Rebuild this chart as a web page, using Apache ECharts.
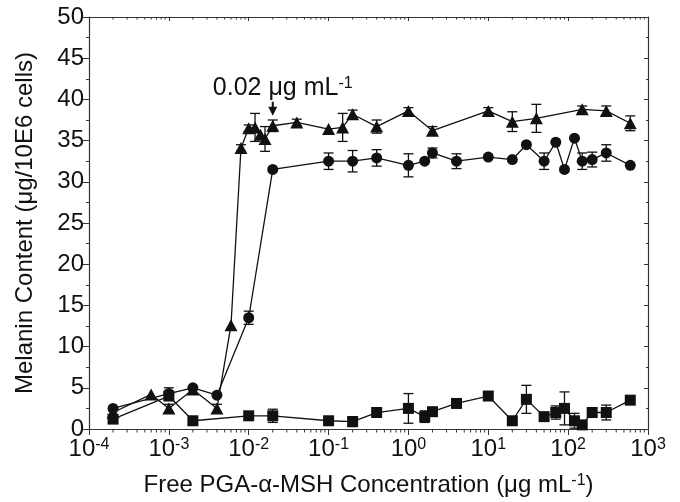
<!DOCTYPE html>
<html>
<head>
<meta charset="utf-8">
<script src="https://cdn.jsdelivr.net/npm/echarts@6/dist/echarts.min.js"></script>
<style>
html,body{margin:0;padding:0;background:#fff;}
#chart{width:680px;height:502px;}
</style>
</head>
<body>
<div id="chart"></div>
<script>
// ---- data (x = concentration µg/mL, y = melanin, e = error) ----
var circleX = [2e-4, 1e-3, 2e-3, 4e-3, 1e-2, 2e-2, 0.1, 0.2, 0.4, 1.0, 1.6, 2.0, 4.0, 10, 20, 30, 50, 70, 90, 120, 150, 200, 300, 600];
var circleY = [2.5, 4.3, 5.0, 4.1, 13.5, 31.5, 32.5, 32.5, 32.9, 32.0, 32.5, 33.5, 32.5, 33.0, 32.7, 34.5, 32.5, 34.8, 31.5, 35.3, 32.5, 32.7, 33.5, 32.0];
var circleE = [0, 0.7, 0, 0, 0.8, 0, 1.0, 1.3, 1.0, 1.4, 0, 0.6, 0.9, 0, 0, 0, 1.0, 0, 0, 0, 1.0, 0.9, 1.0, 0];

var triX = [2e-4, 6e-4, 1e-3, 2e-3, 4e-3, 6e-3, 8e-3, 1e-2, 1.2e-2, 1.4e-2, 1.6e-2, 2e-2, 4e-2, 0.1, 0.15, 0.2, 0.4, 1.0, 2.0, 10, 20, 40, 150, 300, 600];
var triY = [2.0, 4.2, 2.5, 4.8, 2.5, 12.6, 34.1, 36.5, 36.6, 35.7, 35.2, 36.8, 37.2, 36.4, 36.6, 38.2, 36.7, 38.6, 36.2, 38.6, 37.3, 37.7, 38.8, 38.6, 37.1];
var triE = [0, 0, 0.5, 0, 0.5, 0, 0.4, 0.4, 1.7, 0, 1.5, 0.7, 0.4, 0, 1.7, 0.5, 0.8, 0.4, 0.5, 0.4, 1.2, 1.7, 0.4, 0.6, 0.9];

var squareX = [2e-4, 1e-3, 2e-3, 1e-2, 2e-2, 0.1, 0.2, 0.4, 1.0, 1.6, 2.0, 4.0, 10, 20, 30, 50, 70, 90, 120, 150, 200, 300, 600];
var squareY = [1.2, 4.0, 1.0, 1.6, 1.6, 1.0, 0.9, 2.0, 2.5, 1.5, 2.1, 3.1, 4.0, 1.0, 3.6, 1.5, 2.0, 2.5, 1.0, 0.5, 2.0, 2.0, 3.5];
var squareE = [0.3, 0, 0.5, 0, 0.8, 0, 0.6, 0, 1.8, 0.7, 0, 0, 0, 0, 1.7, 0, 0.8, 2.0, 0.9, 0, 0, 0.9, 0];

var xMin = 1e-4, xMax = 1e3;
var yTicks = [0, 5, 10, 15, 20, 25, 30, 35, 40, 45, 50];
var annotX = 0.02, annotY = 36.8;
var annotText = '0.02 μg mL';

// ---- helpers ----
function pairs(xs, ys) { return xs.map(function (x, i) { return [x, ys[i]]; }); }
function errData(xs, ys, es) {
  var out = [];
  xs.forEach(function (x, i) { if (es[i] > 0) out.push([x, ys[i], es[i]]); });
  return out;
}
var minorTicks = [];
for (var k = -4; k < 3; k++) {
  for (var m = 2; m <= 9; m++) minorTicks.push([m * Math.pow(10, k)]);
}
var INK = '#111';
var AX = '#333';
var FONT = '"Liberation Sans", Arial, sans-serif';

function errSeries(data) {
  return {
    type: 'custom', xAxisIndex: 0, yAxisIndex: 0, z: 1, silent: true,
    data: data,
    renderItem: function (params, api) {
      var x = api.value(0), y = api.value(1), e = api.value(2);
      var top = api.coord([x, y + e]), bot = api.coord([x, y - e]);
      var c = 5;
      var st = { stroke: INK, lineWidth: 1.3 };
      return { type: 'group', children: [
        { type: 'line', shape: { x1: top[0], y1: top[1], x2: bot[0], y2: bot[1] }, style: st },
        { type: 'line', shape: { x1: top[0] - c, y1: top[1], x2: top[0] + c, y2: top[1] }, style: st },
        { type: 'line', shape: { x1: bot[0] - c, y1: bot[1], x2: bot[0] + c, y2: bot[1] }, style: st }
      ]};
    }
  };
}

var supStyle = { fontSize: 16, verticalAlign: 'top', fontFamily: FONT, color: INK, padding: [0, 0, 8, 0] };

var chart = echarts.init(document.getElementById('chart'), null, { renderer: 'canvas' });
var option = {
  animation: false,
  backgroundColor: '#fff',
  textStyle: { fontFamily: FONT },
  grid: { left: 89, right: 32, top: 17, bottom: 72, containLabel: false },
  xAxis: [{
    type: 'log', logBase: 10, min: xMin, max: xMax, position: 'bottom',
    name: 'Free PGA-α-MSH Concentration (μg mL{sup|-1}{n|)}',
    nameLocation: 'middle', nameGap: 44,
    nameTextStyle: { fontSize: 24, color: INK, fontFamily: FONT,
      rich: { sup: { fontSize: 16, verticalAlign: 'top', fontFamily: FONT, color: INK, padding: [0, 0, 8, 0] },
              n: { fontSize: 24, fontFamily: FONT, color: INK } } },
    axisLine: { show: true, onZero: false, lineStyle: { color: AX, width: 1.2 } },
    axisTick: { show: true, inside: false, length: 6, lineStyle: { color: AX, width: 1 } },
    minorTick: { show: false },
    splitLine: { show: false },
    axisLabel: {
      margin: 8, fontSize: 24, color: INK, fontFamily: FONT,
      formatter: function (v) { return '10{sup|' + Math.round(Math.log10(v)) + '}'; },
      rich: { sup: supStyle }
    }
  }, {
    type: 'log', logBase: 10, min: xMin, max: xMax, position: 'top',
    axisLine: { show: true, onZero: false, lineStyle: { color: AX, width: 1.2 } },
    axisTick: { show: true, inside: true, length: 4, lineStyle: { color: AX } },
    axisLabel: { show: false }, splitLine: { show: false }
  }],
  yAxis: [{
    type: 'value', min: 0, max: 50, interval: 5, position: 'left',
    name: 'Melanin Content (μg/10E6 cells)', nameLocation: 'middle', nameGap: 52,
    nameTextStyle: { fontSize: 24, color: INK, fontFamily: FONT },
    axisLine: { show: true, onZero: false, lineStyle: { color: AX, width: 1.2 } },
    axisTick: { show: true, inside: false, length: 6, lineStyle: { color: AX } },
    minorTick: { show: true, splitNumber: 2, length: 3, lineStyle: { color: AX } },
    splitLine: { show: false },
    axisLabel: { margin: 5, fontSize: 24, color: INK, fontFamily: FONT,
      formatter: function (v) { return yTicks.indexOf(v) >= 0 ? String(v) : ''; } }
  }, {
    type: 'value', min: 0, max: 50, interval: 5, position: 'right',
    axisLine: { show: true, onZero: false, lineStyle: { color: AX, width: 1.2 } },
    axisTick: { show: true, inside: true, length: 4, lineStyle: { color: AX } },
    minorTick: { show: true, splitNumber: 2, length: 2, lineStyle: { color: AX } },
    splitLine: { show: false }, axisLabel: { show: false }
  }],
  series: [
    errSeries(errData(circleX, circleY, circleE)),
    errSeries(errData(triX, triY, triE)),
    errSeries(errData(squareX, squareY, squareE)),
    {
      type: 'line', name: 'circle', xAxisIndex: 0, yAxisIndex: 0, z: 3,
      data: pairs(circleX, circleY), symbol: 'circle', symbolSize: 11, showAllSymbol: true,
      lineStyle: { color: INK, width: 1.3 }, itemStyle: { color: INK }
    },
    {
      type: 'line', name: 'triangle', xAxisIndex: 0, yAxisIndex: 0, z: 3,
      data: pairs(triX, triY), symbol: 'triangle', symbolSize: [13, 12], showAllSymbol: true,
      lineStyle: { color: INK, width: 1.3 }, itemStyle: { color: INK }
    },
    {
      type: 'line', name: 'square', xAxisIndex: 0, yAxisIndex: 0, z: 3,
      data: pairs(squareX, squareY), symbol: 'rect', symbolSize: 11, showAllSymbol: true,
      lineStyle: { color: INK, width: 1.3 }, itemStyle: { color: INK }
    },
    {
      // minor ticks on log axes (bottom outward, top inward)
      type: 'custom', xAxisIndex: 0, yAxisIndex: 0, silent: true, clip: false, z: 2,
      data: minorTicks,
      renderItem: function (params, api) {
        var v = api.value(0);
        var b = api.coord([v, 0]), t = api.coord([v, 50]);
        var st = { stroke: AX, lineWidth: 1 };
        return { type: 'group', children: [
          { type: 'line', shape: { x1: b[0], y1: b[1], x2: b[0], y2: b[1] + 3.5 }, style: st },
          { type: 'line', shape: { x1: t[0], y1: t[1], x2: t[0], y2: t[1] + 2.5 }, style: st }
        ]};
      }
    },
    {
      // annotation arrow + text anchored to the 0.02 point
      type: 'custom', xAxisIndex: 0, yAxisIndex: 0, silent: true, clip: false, z: 4,
      data: [[annotX, annotY]],
      renderItem: function (params, api) {
        var p = api.coord([api.value(0), api.value(1)]);
        var tipY = p[1] - 10, topY = p[1] - 24;
        return { type: 'group', children: [
          { type: 'line', shape: { x1: p[0], y1: topY, x2: p[0], y2: tipY - 6 }, style: { stroke: INK, lineWidth: 2 } },
          { type: 'polygon', shape: { points: [[p[0] - 4.5, tipY - 9], [p[0] + 4.5, tipY - 9], [p[0], tipY]] }, style: { fill: INK } },
          { type: 'text', x: p[0] + 10, y: topY - 1,
            style: { text: annotText + '{sup|-1}', fontSize: 25, fontFamily: FONT, fill: INK,
              align: 'center', verticalAlign: 'bottom',
              rich: { sup: { fontSize: 16, verticalAlign: 'top', fontFamily: FONT, fill: INK, padding: [0, 0, 8, 0] } } } }
        ]};
      }
    }
  ]
};
chart.setOption(option);
</script>
</body>
</html>
